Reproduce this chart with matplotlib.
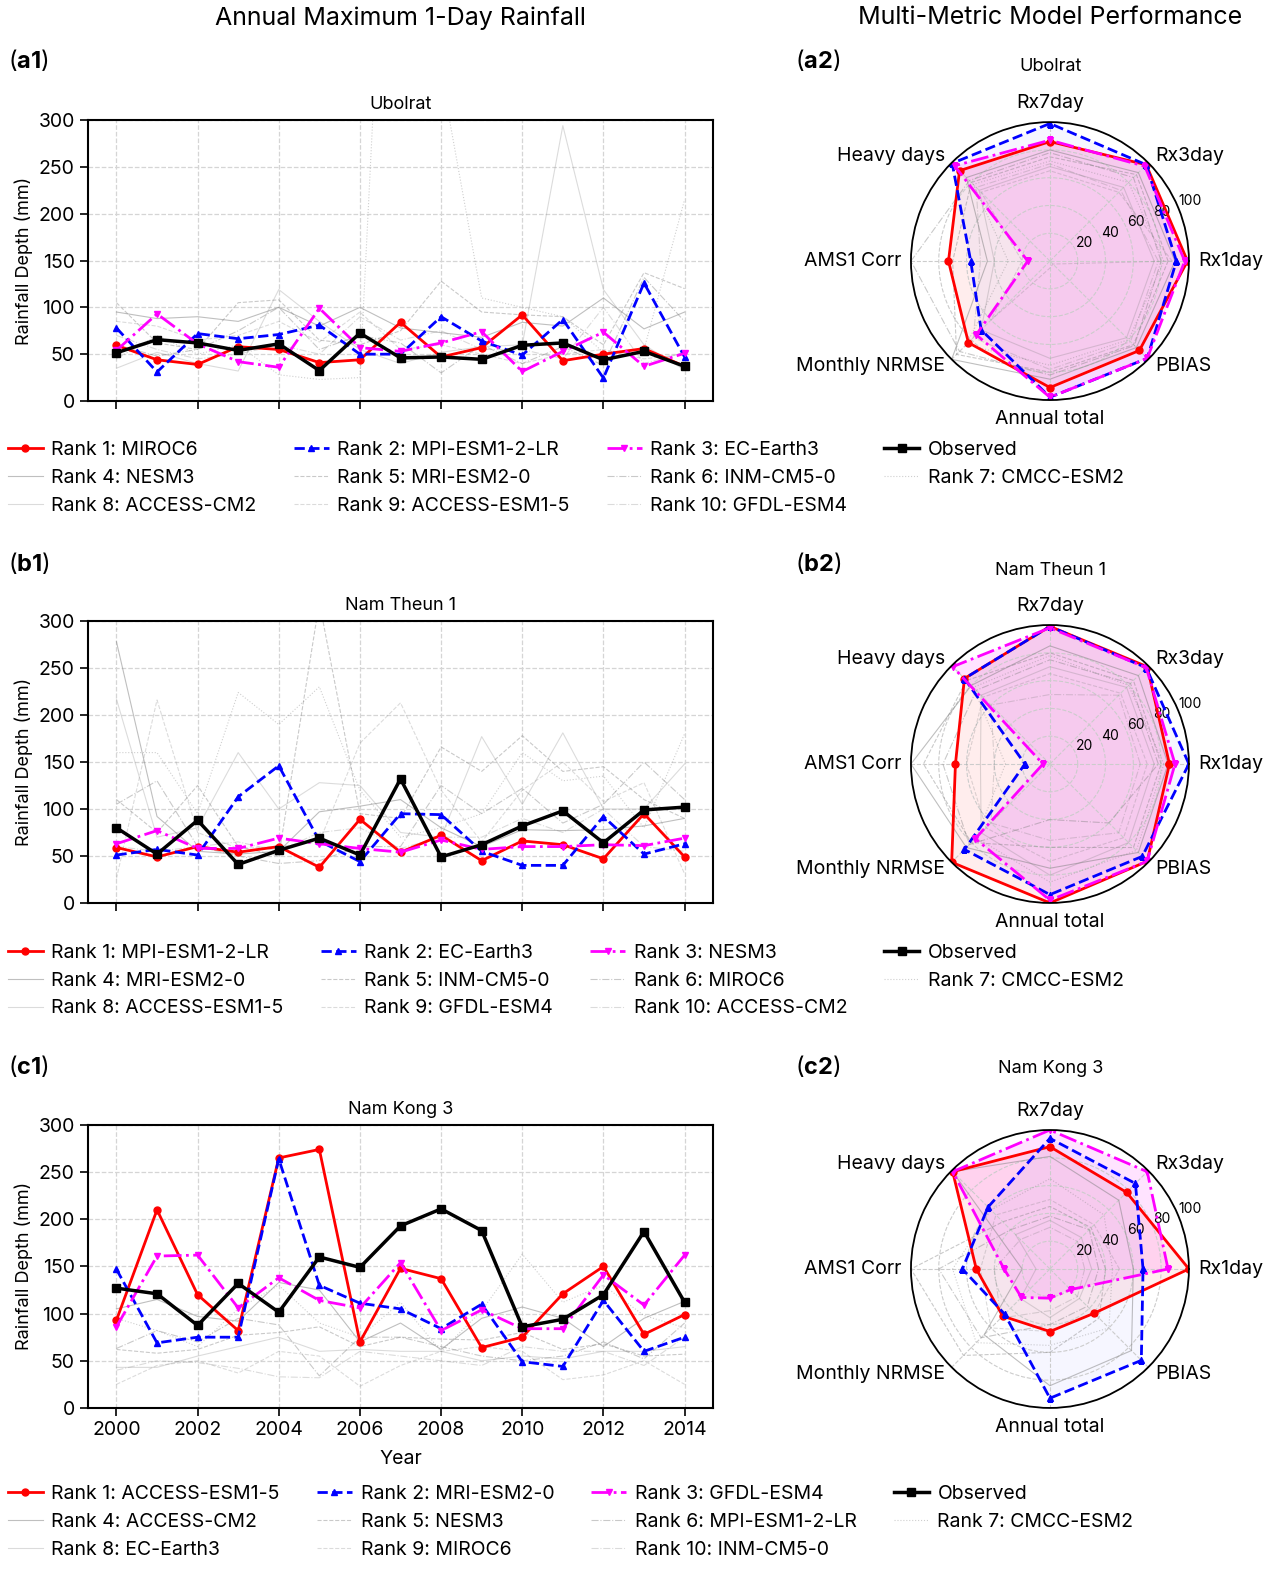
import numpy as np
import matplotlib
matplotlib.use("Agg")
import matplotlib.pyplot as plt

plt.rcParams['font.family'] = ['Inter', 'DejaVu Sans']
plt.rcParams['mathtext.fontset'] = 'custom'
plt.rcParams['mathtext.rm'] = 'Inter'
plt.rcParams['mathtext.bf'] = 'Inter:bold'

years = list(range(2000, 2015))
metrics = ['Rx1day', 'Rx3day', 'Rx7day', 'Heavy days', 'AMS1 Corr',
           'Monthly NRMSE', 'Annual total', 'PBIAS']

# ---- Ubolrat ----
ub_names = ['MIROC6', 'MPI-ESM1-2-LR', 'EC-Earth3', 'NESM3', 'MRI-ESM2-0', 'INM-CM5-0',
            'CMCC-ESM2', 'ACCESS-CM2', 'ACCESS-ESM1-5', 'GFDL-ESM4']
ub_obs = [51.5, 65.5, 62, 54, 61, 32.5, 72.5, 46, 47, 44.5, 59.5, 62, 44, 53, 37]
ub_r1 = [59.5, 44, 39, 58, 55, 41, 44, 84, 47, 57, 92, 43, 50, 56, 37]
ub_r2 = [78, 31, 72, 66.5, 71, 81, 50, 50, 90, 64, 49, 87, 24.5, 126, 47]
ub_r3 = [54, 93, 61, 42, 36, 99, 57, 53, 62, 74, 31.5, 53, 73.5, 37, 51]
ub_gray = [
    [95, 88, 90, 85, 100, 80, 100, 78, 73, 68, 84, 80, 110, 77, 95],
    [105, 62, 55, 105, 108, 65, 60, 75, 128, 95, 92, 90, 60, 137, 120],
    [60, 48, 55, 75, 100, 55, 70, 62, 30, 60, 40, 58, 38, 132, 85],
    [45, 70, 50, 60, 28, 23, 25, 900, 350, 110, 100, 90, 52, 55, 215],
    [35, 52, 40, 32, 119, 85, 55, 40, 52, 58, 60, 294, 119, 60, 33],
    [85, 80, 65, 70, 85, 63, 95, 55, 60, 50, 40, 50, 55, 45, 50],
    [70, 55, 45, 50, 60, 50, 90, 65, 75, 55, 55, 45, 100, 40, 52],
]
ub_radar_top = [
    [99, 98, 86, 92, 73, 83, 91, 91],
    [91, 98, 99, 99.5, 57, 70, 98, 99],
    [97, 96.5, 87, 97, 16, 75, 98, 99],
]
ub_radar_gray = [
    [90, 90, 80, 85, 45, 100, 85, 88],
    [85, 88, 75, 80, 70, 95, 80, 85],
    [80, 85, 78, 82, 100, 92, 82, 86],
    [82, 80, 72, 78, 30, 85, 75, 80],
    [75, 75, 68, 72, 40, 70, 70, 78],
    [88, 70, 65, 70, 20, 60, 5, 3],
    [78, 72, 70, 75, 50, 78, 78, 82],
]

# ---- Nam Theun 1 ----
nt_names = ['MPI-ESM1-2-LR', 'EC-Earth3', 'NESM3', 'MRI-ESM2-0', 'INM-CM5-0', 'MIROC6',
            'CMCC-ESM2', 'ACCESS-ESM1-5', 'GFDL-ESM4', 'ACCESS-CM2']
nt_obs = [80, 52, 88, 41, 56, 69, 51, 132, 49, 62, 82, 98, 64, 99, 102]
nt_r1 = [59, 49, 60, 54, 60, 38, 89, 54, 72, 45, 66, 62, 47, 95, 49]
nt_r2 = [51, 57, 51, 113, 146, 66, 44, 95, 94, 55, 40, 40, 92, 52, 63]
nt_r3 = [63, 77, 58, 58, 69, 63, 58, 54, 67, 57, 60, 60, 62, 61, 69]
nt_gray = [
    [278, 92, 55, 52, 55, 97, 103, 110, 80, 60, 78, 77, 78, 82, 90],
    [110, 75, 125, 60, 50, 320, 95, 90, 166, 140, 178, 140, 145, 110, 90],
    [105, 130, 60, 50, 42, 45, 60, 60, 125, 95, 122, 85, 105, 150, 110],
    [160, 160, 95, 224, 190, 230, 120, 70, 80, 95, 160, 130, 135, 80, 180],
    [217, 70, 80, 160, 100, 128, 125, 75, 70, 177, 105, 181, 100, 100, 148],
    [26, 216, 75, 58, 60, 65, 170, 213, 120, 65, 120, 150, 108, 128, 31],
    [60, 55, 60, 65, 55, 75, 80, 58, 70, 70, 90, 75, 100, 60, 55],
]
nt_radar_top = [
    [86, 99, 99, 87, 68, 100, 100, 99],
    [100, 98, 99, 87, 18, 87, 94, 94],
    [90, 98, 98, 99, 5, 76, 98, 99],
]
nt_radar_gray = [
    [85, 90, 85, 80, 100, 85, 75, 90],
    [80, 85, 80, 85, 91, 80, 60, 85],
    [78, 82, 75, 75, 77, 82, 40, 60],
    [82, 80, 78, 78, 32, 75, 85, 88],
    [75, 78, 70, 70, 50, 70, 80, 80],
    [70, 72, 65, 68, 60, 65, 70, 75],
    [65, 70, 50, 60, 40, 60, 55, 70],
]

# ---- Nam Kong 3 ----
nk_names = ['ACCESS-ESM1-5', 'MRI-ESM2-0', 'GFDL-ESM4', 'ACCESS-CM2', 'NESM3', 'MPI-ESM1-2-LR',
            'CMCC-ESM2', 'EC-Earth3', 'MIROC6', 'INM-CM5-0']
nk_obs = [127, 121, 87.5, 132, 101.5, 160, 149, 193, 211, 188, 86, 94, 120, 187, 112]
nk_r1 = [93, 210, 120, 82, 265, 274, 70, 148, 137, 64, 75, 121, 150, 78, 99]
nk_r2 = [147, 69, 75, 75, 264, 130, 111, 105, 84, 110, 49, 44, 114, 60, 75]
nk_r3 = [86, 161, 162, 106, 138, 114, 106, 154, 82, 104, 84, 84, 141, 109, 162]
nk_gray = [
    [105, 115, 97, 92, 133, 125, 70, 90, 62, 95, 107, 95, 65, 95, 113],
    [62, 58, 62, 77, 80, 86, 65, 75, 73, 72, 80, 62, 68, 55, 57],
    [63, 82, 70, 95, 88, 34, 75, 75, 65, 55, 50, 55, 70, 52, 90],
    [95, 82, 65, 105, 130, 90, 75, 112, 60, 103, 163, 112, 130, 98, 85],
    [43, 43, 55, 65, 75, 60, 62, 60, 60, 50, 55, 52, 60, 60, 65],
    [25, 45, 50, 37, 60, 55, 23, 45, 60, 65, 60, 30, 35, 50, 25],
    [40, 50, 48, 42, 33, 32, 60, 55, 50, 45, 65, 60, 60, 45, 75],
]
nk_radar_top = [
    [100, 78, 88, 99, 53, 48, 45, 45],
    [67, 87, 94, 63, 63, 46, 93, 93],
    [85, 99, 100, 99, 33, 29, 21, 21],
]
nk_radar_gray = [
    [60, 70, 81, 99, 20, 67, 84, 83],
    [40, 42, 45, 48, 100, 88, 60, 50],
    [35, 40, 38, 40, 80, 70, 40, 38],
    [45, 55, 65, 60, 70, 75, 55, 60],
    [30, 32, 35, 35, 10, 30, 35, 30],
    [50, 45, 50, 55, 50, 60, 45, 45],
    [25, 28, 30, 30, 40, 50, 30, 28],
]

top_colors = ['red', 'blue', 'magenta']
top_fill_alpha = [0.07, 0.035, 0.11]
top_ls = ['-', '--', '-.']
top_mk = ['o', '^', 'v']
gray_ls = ['-', '--', '-.', ':', '-', '--', '-.']
gray_alpha = [0.5, 0.42, 0.42, 0.38, 0.28, 0.28, 0.28]

fig = plt.figure(figsize=(12.87, 15.9), dpi=100)

fig.text(0.311, 0.9887, 'Annual Maximum 1-Day Rainfall', ha='center', va='center', fontsize=18)
fig.text(0.816, 0.9887, 'Multi-Metric Model Performance', ha='center', va='center', fontsize=18)


def line_panel(rect, site, obs, tops, gray, names, show_x, legend_y):
    ax = fig.add_axes(rect)
    handles = []
    for i, g in enumerate(gray):
        h, = ax.plot(years, g, color='gray', lw=0.8, ls=gray_ls[i], alpha=gray_alpha[i],
                     label=f'Rank {i + 4}: {names[i + 3]}')
        handles.append(h)
    tops_h = []
    for i, t in enumerate(tops):
        h, = ax.plot(years, t, color=top_colors[i], ls=top_ls[i], marker=top_mk[i],
                     lw=2, ms=5, label=f'Rank {i + 1}: {names[i]}')
        tops_h.append(h)
    ho, = ax.plot(years, obs, color='black', ls='-', marker='s', lw=2.5, ms=6, label='Observed')
    ax.set_ylim(0, 300)
    ax.set_yticks(range(0, 301, 50))
    ax.set_xticks(range(2000, 2015, 2))
    ax.grid(True, ls='--', color='#d5d5d5', lw=0.9)
    ax.tick_params(labelsize=14, length=6, width=1.2)
    for s in ax.spines.values():
        s.set_linewidth(1.5)
    ax.set_ylabel('Rainfall Depth (mm)', fontsize=13)
    ax.set_title(site, fontsize=13, pad=8)
    if show_x:
        ax.set_xlabel('Year', fontsize=14, labelpad=8)
    else:
        ax.set_xticklabels([])
    order = [tops_h[0], handles[0], handles[4], tops_h[1], handles[1], handles[5],
             tops_h[2], handles[2], handles[6], ho, handles[3]]
    ax.legend(handles=order, labels=[h.get_label() for h in order], ncol=4,
              loc='upper left', bbox_to_anchor=(0.006, legend_y),
              bbox_transform=fig.transFigure, frameon=False, fontsize=14,
              borderpad=0, borderaxespad=0, handletextpad=0.45, columnspacing=1.9,
              labelspacing=0.5, handlelength=1.8)
    return ax


def radar_panel(rect, site, tops, gray, title_y):
    ax = fig.add_axes(rect, projection='polar')
    ang = np.deg2rad(np.arange(len(metrics)) * 45.0)
    ang_c = np.append(ang, ang[0])
    for i, g in enumerate(gray):
        ax.plot(ang_c, g + g[:1], color='gray', lw=0.8, ls=gray_ls[i], alpha=gray_alpha[i])
    for i, t in enumerate(tops):
        ax.fill(ang_c, t + t[:1], color=top_colors[i], alpha=top_fill_alpha[i], lw=0)
    for i, t in enumerate(tops):
        ax.plot(ang_c, t + t[:1], color=top_colors[i], ls=top_ls[i], marker=top_mk[i],
                lw=2, ms=5)
    ax.set_ylim(0, 100)
    ax.set_yticks([20, 40, 60, 80, 100])
    ax.set_yticklabels(['20', '40', '60', '80', '100'], fontsize=10)
    ax.set_rlabel_position(22.5)
    ax.set_xticks(ang)
    ax.set_xticklabels([])
    ax.grid(True, ls='--', color='#cccccc', lw=0.8)
    ax.spines['polar'].set_color('black')
    ax.spines['polar'].set_linewidth(1.3)
    for a, name in zip(ang, metrics):
        c, s = np.cos(a), np.sin(a)
        ha = 'left' if c > 0.1 else ('right' if c < -0.1 else 'center')
        va = 'bottom' if s > 0.9 else ('top' if s < -0.9 else 'center')
        ax.text(a, 107, name, ha=ha, va=va, fontsize=14, clip_on=False)
    fig.text(0.816, title_y, site, ha='center', va='center', fontsize=13)
    return ax


line_panel([0.0684, 0.7478, 0.4856, 0.1767], 'Ubolrat', ub_obs, [ub_r1, ub_r2, ub_r3],
           ub_gray, ub_names, False, 0.7226)
line_panel([0.0684, 0.4321, 0.4856, 0.1773], 'Nam Theun 1', nt_obs, [nt_r1, nt_r2, nt_r3],
           nt_gray, nt_names, False, 0.4063)
line_panel([0.0684, 0.1145, 0.4856, 0.1780], 'Nam Kong 3', nk_obs, [nk_r1, nk_r2, nk_r3],
           nk_gray, nk_names, True, 0.0660)

radar_panel([0.7078, 0.7484, 0.216, 0.1748], 'Ubolrat', ub_radar_top, ub_radar_gray, 0.9579)
radar_panel([0.7078, 0.4321, 0.216, 0.1748], 'Nam Theun 1', nt_radar_top, nt_radar_gray, 0.6415)
radar_panel([0.7078, 0.1145, 0.216, 0.1748], 'Nam Kong 3', nk_radar_top, nk_radar_gray, 0.3278)

for lab, x, y in [('a1', 0.006, 0.962), ('a2', 0.618, 0.962), ('b1', 0.006, 0.646),
                  ('b2', 0.618, 0.646), ('c1', 0.006, 0.3296), ('c2', 0.618, 0.3296)]:
    fig.text(x, y, r'($\mathbf{' + lab + '}$)', fontsize=17, va='center', ha='left')

fig.savefig('out.png', dpi=100)
